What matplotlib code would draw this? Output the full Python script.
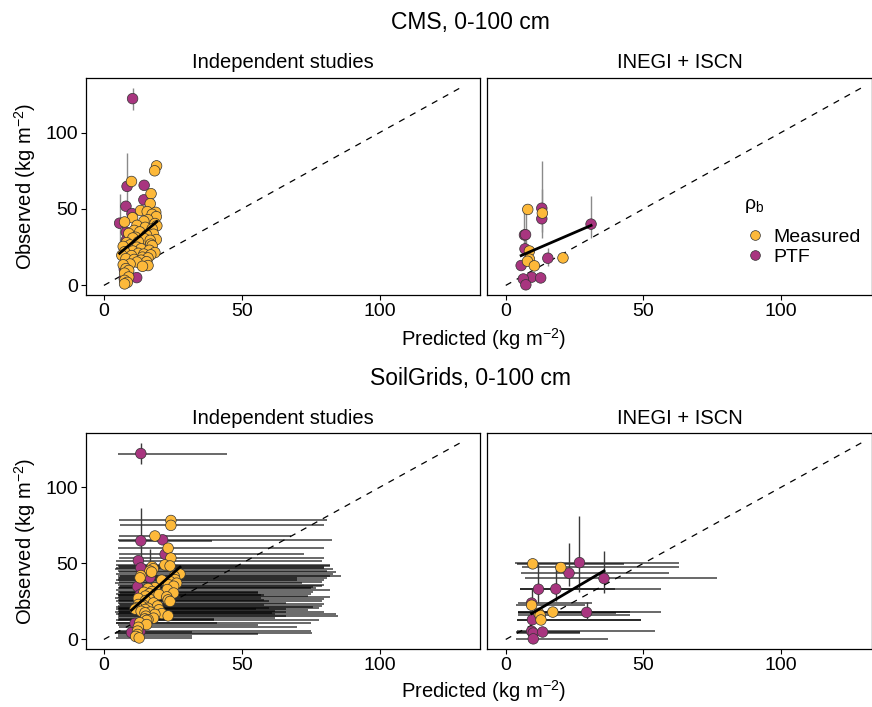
import numpy as np
import matplotlib
matplotlib.use("Agg")
import matplotlib.pyplot as plt
from matplotlib.lines import Line2D

plt.rcParams['font.family'] = ['Liberation Sans', 'DejaVu Sans']
plt.rcParams['mathtext.fontset'] = 'custom'
plt.rcParams['mathtext.rm'] = 'Liberation Sans'
plt.rcParams['mathtext.it'] = 'Liberation Sans:italic'

# --- Independent studies: PTF rows first, then measured rows ---
indep_rho = ['PTF'] * 13 + ['Measured'] * 64
indep_obs = [122.2, 64.8, 65.5, 51.8, 56.0, 40.7, 47.0, 34.8, 29.4, 17.8, 10.6, 4.5, 5.1,
             78.2, 75.0, 68.0, 60.0, 53.5, 49.0, 48.3, 47.8, 46.5, 45.0, 44.3, 43.0, 42.0, 41.5, 40.5,
             39.3, 39.0, 38.0, 37.0, 36.0, 35.0, 34.0, 33.5, 32.8, 31.5, 31.0, 30.5, 30.0, 29.5, 28.5,
             28.0, 27.0, 26.5, 26.0, 25.5, 25.0, 24.0, 23.0, 22.5, 22.0, 21.5, 21.0, 20.5, 20.0, 19.7,
             19.5, 18.5, 18.0, 17.5, 17.0, 16.5, 15.5, 15.3, 14.0, 13.5, 13.0, 12.5, 11.0, 9.8, 8.0,
             5.5, 3.3, 2.0, 1.0]
indep_cms = [10.4, 8.4, 14.6, 8.0, 14.5, 5.7, 10.2, 8.1, 8.1, 8.8, 7.4, 7.4, 11.9,
             19.1, 18.4, 10.0, 17.1, 16.8, 13.3, 15.7, 18.8, 17.5, 19.0, 10.4, 16.0, 14.5, 7.5, 18.5,
             12.0, 19.2, 15.0, 17.5, 11.0, 13.0, 9.0, 18.0, 15.5, 11.5, 10.5, 14.8, 19.0, 16.8, 12.5,
             8.2, 17.0, 9.5, 17.5, 7.0, 12.0, 13.5, 16.5, 10.5, 7.5, 18.5, 12.5, 14.5, 17.0, 6.5,
             10.0, 14.0, 16.0, 8.0, 11.0, 13.5, 15.5, 12.0, 9.5, 7.0, 16.0, 14.0, 8.0, 9.0, 7.5,
             9.0, 7.5, 8.5, 7.5]
indep_sg = [13.4, 13.4, 21.3, 12.5, 22.2, 16.7, 13.4, 12.2, 13.1, 14.0, 11.3, 10.0, 13.1,
            24.3, 24.3, 18.5, 23.3, 24.3, 22.1, 24.0, 17.5, 17.9, 16.7, 17.3, 27.6, 13.4, 25.5, 13.1,
            25.8, 21.0, 24.0, 26.4, 23.4, 25.3, 18.5, 16.0, 23.0, 17.5, 14.5, 25.3, 16.5, 20.0, 15.1,
            22.8, 12.5, 16.5, 23.3, 15.1, 24.0, 18.0, 12.5, 14.3, 19.5, 14.0, 12.0, 16.0, 11.3, 15.0,
            20.0, 13.5, 16.8, 14.9, 21.0, 18.5, 23.3, 15.2, 18.0, 14.9, 16.0, 15.5, 13.0, 15.5, 12.5,
            12.2, 12.2, 11.5, 12.8]
indep_sg_lo = [5.2, 5.5, 5.0, 4.5, 5.5, 5.0, 4.5, 5.5, 5.0, 5.5, 4.5, 4.0, 4.5,
               5.5, 6.0, 5.5, 5.0, 5.5, 4.5, 5.0, 5.5, 4.0, 5.0, 5.5, 4.5, 6.0, 5.0, 5.5,
               4.5, 5.0, 5.5, 4.0, 5.0, 6.0, 5.0, 5.5, 4.5, 5.0, 5.5, 6.0, 4.5, 5.0, 5.5,
               5.0, 4.0, 5.5, 5.0, 5.5, 4.5, 5.0, 5.5, 6.0, 5.0, 4.5, 5.0, 5.5, 5.0, 4.5,
               5.5, 5.0, 4.0, 5.5, 5.0, 4.5, 5.5, 5.0, 5.0, 5.5, 4.5, 5.0, 4.5, 5.0, 5.5,
               5.0, 5.0, 5.0, 4.5]
indep_sg_hi = [44.6, 39.1, 82.7, 79.0, 72.4, 70.0, 80.0, 76.0, 57.0, 66.0, 41.0, 75.4, 31.8,
               81, 80, 68, 80, 80, 82, 82, 80, 83, 81, 84, 83, 86, 82, 81,
               70, 80, 79, 72, 80, 79, 75, 77, 82, 56, 76, 56, 75, 58, 74,
               82, 57, 80, 58, 79, 60, 66, 80, 58, 79, 76, 60, 78, 66, 55,
               74, 62, 80, 61, 84, 62, 85, 66, 62, 40, 78, 40, 75, 56, 70,
               75, 56, 32, 32]
# observed uncertainty (only a few rows have it)
indep_bar_rows = [0, 1, 5]
indep_bar_lo = [115.0, 41.0, 26.0]
indep_bar_hi = [129.4, 86.5, 59.5]

# --- INEGI + ISCN ---
inegi_rho = ['PTF'] * 12 + ['Measured'] * 7
inegi_obs = [50.5, 43.6, 40.1, 33.0, 33.2, 23.9, 17.8, 13.0, 5.4, 4.2, 4.9, 0.4,
             49.7, 47.3, 22.5, 18.0, 17.2, 15.8, 12.8]
inegi_cms = [13.1, 13.1, 31.0, 6.8, 7.2, 7.0, 15.3, 5.6, 9.4, 6.4, 12.7, 7.3,
             8.0, 13.3, 8.6, 20.8, 8.6, 7.9, 10.4]
inegi_sg = [26.8, 23.0, 35.7, 11.9, 18.2, 9.4, 29.4, 9.7, 9.4, 10.0, 13.4, 10.0,
            9.8, 20.0, 9.4, 17.1, 12.0, 12.5, 12.8]
inegi_sg_lo = [3.4, 5.6, 7.0, 5.2, 5.0, 4.6, 4.6, 4.1, 4.1, 4.1, 3.6, 3.6,
               4.0, 5.8, 3.6, 4.6, 4.6, 4.6, 4.1]
inegi_sg_hi = [63.1, 59.4, 76.9, 56.3, 39.7, 31.2, 56.3, 49.0, 54.2, 27.0, 27.0, 37.0,
               43.1, 63.1, 28.8, 45.2, 40.0, 45.2, 49.0]
inegi_bar_rows = [0, 1, 2, 3, 4, 5, 6]
inegi_bar_lo = [31.0, 35.0, 30.7, 24.0, 25.0, 17.0, 12.5]
inegi_bar_hi = [81.2, 63.3, 58.4, 49.5, 49.0, 33.0, 24.3]

rho_colors = {'Measured': '#FDB93A', 'PTF': '#A8357F'}
line_max = max(indep_bar_hi + inegi_bar_hi)

W, H = 872, 707
fig = plt.figure(figsize=(W / 100, H / 100), dpi=100)


def add_ax(x0, y0, x1, y1):
    return fig.add_axes([x0 / W, 1 - y1 / H, (x1 - x0) / W, (y1 - y0) / H])


def panel(ax, obs, pred, rho, rows, blo, bhi, bar_col, xlim, plo=None, phi=None):
    obs = np.asarray(obs, float)
    pred = np.asarray(pred, float)
    if plo is not None:
        ax.hlines(obs, plo, phi, color='black', alpha=0.75, lw=1.1, zorder=1)
    ax.vlines(pred[rows], blo, bhi, color=bar_col, lw=1.0, zorder=1)
    ax.plot([0, line_max], [0, line_max], color='black', lw=0.9,
            ls=(0, (5, 5)), zorder=2)
    ax.scatter(pred, obs, c=[rho_colors[r] for r in rho], s=58,
               edgecolors='#333333', linewidths=0.5, zorder=3)
    # linear fit over the panel's points, drawn on top
    coef = np.polyfit(pred, obs, 1)
    xs = np.array([pred.min(), pred.max()])
    ax.plot(xs, np.polyval(coef, xs), color='black', lw=2, zorder=4)
    ax.set_xlim(xlim)
    ax.set_ylim(-6.47, 135.9)
    ax.set_xticks([0, 50, 100])
    ax.set_yticks([0, 50, 100])
    ax.tick_params(length=3.5, width=0.8, labelsize=14, colors='black', pad=2)
    for s in ax.spines.values():
        s.set_linewidth(0.9)


xl_left = (-6.6, 136.4)
xl_right = (-6.7, 132.9)

ax_tl = add_ax(85.7, 77.7, 480.0, 295.3)
ax_tr = add_ax(487.3, 77.7, 871.5, 295.3)
ax_bl = add_ax(85.7, 432.7, 480.0, 649.3)
ax_br = add_ax(487.3, 432.7, 871.5, 649.3)

gray_bar = '#8a8a8a'
dark_bar = '#3a3a3a'
panel(ax_tl, indep_obs, indep_cms, indep_rho, indep_bar_rows, indep_bar_lo, indep_bar_hi,
      gray_bar, xl_left)
panel(ax_tr, inegi_obs, inegi_cms, inegi_rho, inegi_bar_rows, inegi_bar_lo, inegi_bar_hi,
      gray_bar, xl_right)
panel(ax_bl, indep_obs, indep_sg, indep_rho, indep_bar_rows, indep_bar_lo, indep_bar_hi,
      dark_bar, xl_left, indep_sg_lo, indep_sg_hi)
panel(ax_br, inegi_obs, inegi_sg, inegi_rho, inegi_bar_rows, inegi_bar_lo, inegi_bar_hi,
      dark_bar, xl_right, inegi_sg_lo, inegi_sg_hi)

for ax in (ax_tr, ax_br):
    ax.set_yticklabels([])
    ax.tick_params(axis='y', length=0)

# titles and labels
fig.text(470 / W, 1 - 22 / H, 'CMS, 0-100 cm', ha='center', va='center', fontsize=16.5)
fig.text(470 / W, 1 - 379 / H, 'SoilGrids, 0-100 cm', ha='center', va='center', fontsize=16.5)
for yc in (63, 418):
    fig.text(282.8 / W, 1 - yc / H, 'Independent studies', ha='center', va='center', fontsize=14.5)
    fig.text(679.5 / W, 1 - yc / H, 'INEGI + ISCN', ha='center', va='center', fontsize=14.5)
for yc in (339, 691):
    fig.text(484 / W, 1 - yc / H, 'Predicted (kg m$^{-2}$)', ha='center', va='center', fontsize=14.5)
for yc in (186.5, 541):
    fig.text(25 / W, 1 - yc / H, 'Observed (kg m$^{-2}$)', ha='center', va='center',
             rotation=90, fontsize=14.5)

handles = [Line2D([], [], ls='', marker='o', markersize=7, markerfacecolor=rho_colors[k],
                  markeredgecolor='#333333', markeredgewidth=0.5, label=k)
           for k in ('Measured', 'PTF')]
leg = fig.legend(handles=handles, title='ρ$_{\\mathrm{b}}$', loc='upper left',
                 bbox_to_anchor=(736 / W, 1 - 188 / H), frameon=False, fontsize=14,
                 title_fontsize=14, alignment='left', handletextpad=0.3,
                 labelspacing=0.1, borderaxespad=0, handlelength=1.2)
leg._legend_box.sep = 10

fig.savefig('out.png', dpi=100)
